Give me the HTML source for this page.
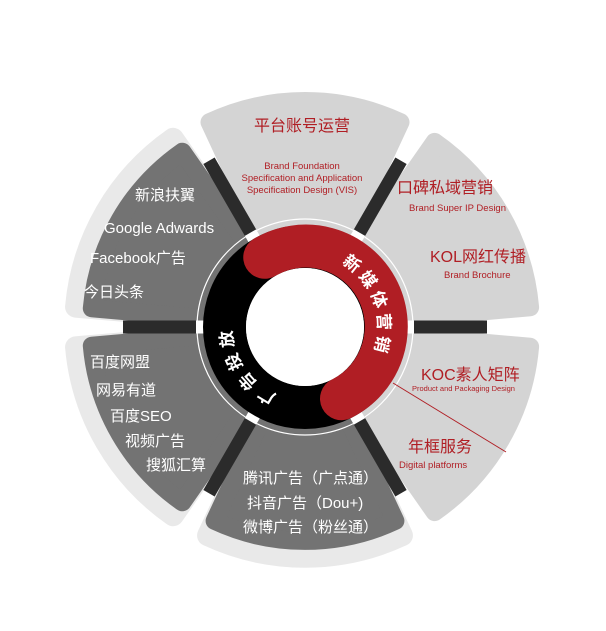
<!DOCTYPE html>
<html><head><meta charset="utf-8"><style>
html,body{margin:0;padding:0;background:#fff;}
svg{display:block;font-family:"Liberation Sans","Noto Sans CJK SC",sans-serif;}
</style></head><body>
<svg width="606" height="631" viewBox="0 0 606 631" xmlns="http://www.w3.org/2000/svg">
<g fill="#e9e9e9" stroke="#e9e9e9" stroke-width="20" stroke-linejoin="round" transform="translate(305,327) scale(1.075) translate(-305,-327)">
<path d="M 347.3 417.6 L 395.4 520.9 A 214 214 0 0 1 214.6 520.9 L 262.7 417.6 A 100 100 0 0 0 347.3 417.6 Z"/>
<path d="M 247.6 408.9 L 182.3 502.3 A 214 214 0 0 1 91.8 345.7 L 205.4 335.7 A 100 100 0 0 0 247.6 408.9 Z"/>
<path d="M 205.4 318.3 L 91.8 308.3 A 214 214 0 0 1 182.3 151.7 L 247.6 245.1 A 100 100 0 0 0 205.4 318.3 Z"/>
</g>
<g fill="#d4d4d4" stroke="#d4d4d4" stroke-width="18" stroke-linejoin="round">
<path d="M 262.7 236.4 L 209.5 122.2 A 226 226 0 0 1 400.5 122.2 L 347.3 236.4 A 100 100 0 0 0 262.7 236.4 Z"/>
<path d="M 362.4 245.1 L 434.6 141.9 A 226 226 0 0 1 530.1 307.3 L 404.6 318.3 A 100 100 0 0 0 362.4 245.1 Z"/>
<path d="M 404.6 335.7 L 530.1 346.7 A 226 226 0 0 1 434.6 512.1 L 362.4 408.9 A 100 100 0 0 0 404.6 335.7 Z"/>
</g>
<g fill="#737373" stroke="#737373" stroke-width="18" stroke-linejoin="round">
<path d="M 347.3 417.6 L 395.4 520.9 A 214 214 0 0 1 214.6 520.9 L 262.7 417.6 A 100 100 0 0 0 347.3 417.6 Z"/>
<path d="M 247.6 408.9 L 182.3 502.3 A 214 214 0 0 1 91.8 345.7 L 205.4 335.7 A 100 100 0 0 0 247.6 408.9 Z"/>
<path d="M 205.4 318.3 L 91.8 308.3 A 214 214 0 0 1 182.3 151.7 L 247.6 245.1 A 100 100 0 0 0 205.4 318.3 Z"/>
</g>
<g>
<g transform="rotate(0 305 327)"><rect x="412" y="320.5" width="75" height="13" fill="#2b2b2b"/><rect x="402" y="320.5" width="12" height="13" fill="#fff"/></g>
<g transform="rotate(-60 305 327)"><rect x="412" y="320.5" width="85" height="13" fill="#2b2b2b"/><rect x="402" y="320.5" width="12" height="13" fill="#fff"/></g>
<g transform="rotate(-120 305 327)"><rect x="412" y="320.5" width="85" height="13" fill="#2b2b2b"/><rect x="402" y="320.5" width="12" height="13" fill="#fff"/></g>
<g transform="rotate(180 305 327)"><rect x="412" y="320.5" width="75" height="13" fill="#2b2b2b"/><rect x="402" y="320.5" width="12" height="13" fill="#fff"/></g>
<g transform="rotate(120 305 327)"><rect x="412" y="320.5" width="85" height="13" fill="#2b2b2b"/><rect x="402" y="320.5" width="12" height="13" fill="#fff"/></g>
<g transform="rotate(60 305 327)"><rect x="412" y="320.5" width="85" height="13" fill="#2b2b2b"/><rect x="402" y="320.5" width="12" height="13" fill="#fff"/></g>
</g>
<circle cx="305" cy="327" r="108" fill="none" stroke="#fff" stroke-width="1.2"/>
<circle cx="305" cy="327" r="80.5" fill="none" stroke="#000" stroke-width="43"/>
<path d="M 264.75 257.3 A 80.5 80.5 0 1 1 341.5 398.7" fill="none" stroke="#b01e24" stroke-width="43" stroke-linecap="round"/>
<circle cx="305" cy="327" r="59" fill="#fff"/>
<defs>
<path id="pr" d="M 337 261.4 A 73 73 0 0 1 370.6 359"/>
<path id="pl" d="M 280 395.6 A 73 73 0 0 1 232.2 321.9"/>
</defs>
<text fill="#fff" font-size="17" font-weight="bold" letter-spacing="4"><textPath href="#pr" startOffset="50%" text-anchor="middle">新媒体营销</textPath></text>
<text fill="#fff" font-size="17" font-weight="bold" letter-spacing="5"><textPath href="#pl" startOffset="50%" text-anchor="middle">广告投放</textPath></text>
<line x1="393" y1="383" x2="506" y2="452" stroke="#b01e24" stroke-width="1"/>
<g fill="#b01e24">
<text x="302" y="131" font-size="16" text-anchor="middle">平台账号运营</text>
<text x="302" y="169" font-size="9.5" text-anchor="middle">Brand Foundation</text>
<text x="302" y="181" font-size="9.5" text-anchor="middle">Specification and Application</text>
<text x="302" y="193" font-size="9.5" text-anchor="middle">Specification Design (VIS)</text>
<text x="397" y="193" font-size="16">口碑私域营销</text>
<text x="409" y="211" font-size="9.5">Brand Super IP Design</text>
<text x="430" y="262" font-size="16">KOL网红传播</text>
<text x="444" y="278" font-size="9.5">Brand Brochure</text>
<text x="421" y="380" font-size="16">KOC素人矩阵</text>
<text x="412" y="391" font-size="7.5">Product and Packaging Design</text>
<text x="408" y="452" font-size="16">年框服务</text>
<text x="399" y="468" font-size="9.5">Digital platforms</text>
</g>
<g fill="#fff" font-size="15">
<text x="135" y="200">新浪扶翼</text>
<text x="104" y="233">Google Adwards</text>
<text x="90" y="263">Facebook广告</text>
<text x="84" y="297">今日头条</text>
<text x="90" y="367">百度网盟</text>
<text x="96" y="395">网易有道</text>
<text x="110" y="421">百度SEO</text>
<text x="125" y="446">视频广告</text>
<text x="146" y="470">搜狐汇算</text>
<text x="243" y="483">腾讯广告（广点通）</text>
<text x="247" y="508">抖音广告（Dou+)</text>
<text x="243" y="532">微博广告（粉丝通）</text>
</g>
</svg>
</body></html>
